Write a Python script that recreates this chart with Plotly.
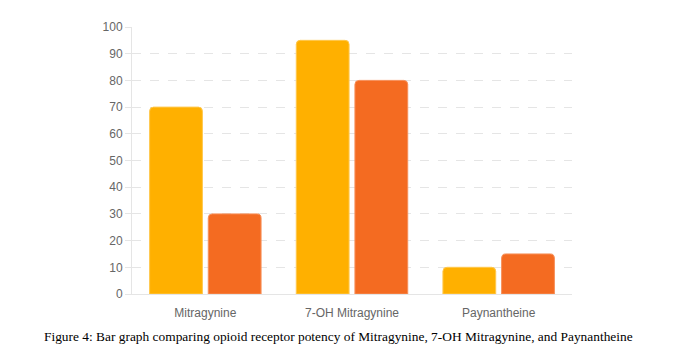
import plotly.graph_objects as go

categories = ["Mitragynine", "7-OH Mitragynine", "Paynantheine"]
series_a = [70, 95, 10]
series_b = [30, 80, 15]
y_ticks = [0, 10, 20, 30, 40, 50, 60, 70, 80, 90, 100]
caption = "Figure 4: Bar graph comparing opioid receptor potency of Mitragynine, 7-OH Mitragynine, and Paynantheine"

fig = go.Figure()
fig.add_trace(go.Bar(x=categories, y=series_a, marker=dict(color="#FFB000", line=dict(color="#FFC84D", width=1)), name="A"))
fig.add_trace(go.Bar(x=categories, y=series_b, marker=dict(color="#F46B21", line=dict(color="#F7905A", width=1)), name="B"))

fig.update_layout(
    width=681, height=362,
    margin=dict(l=124, r=117, t=15, b=76),
    barmode="group", bargap=0.2, bargroupgap=0.1, barcornerradius=4,
    showlegend=False,
    plot_bgcolor="white", paper_bgcolor="white",
    font=dict(family="Liberation Sans, Arial", size=12, color="#666666"),
)
fig.update_xaxes(showgrid=False, showline=True, linecolor="#e5e5e5", linewidth=1,
                 ticks="", tickfont=dict(size=12, color="#666666"), ticklabelstandoff=8)
fig.update_yaxes(range=[0, 100], tickvals=y_ticks, showgrid=True, gridcolor="#e5e5e5",
                 griddash="dash", showline=True, linecolor="#e5e5e5", linewidth=1,
                 ticks="outside", ticklen=6, tickcolor="#e5e5e5", zeroline=False,
                 tickfont=dict(size=12, color="#666666"))
fig.add_annotation(text=caption, xref="paper", yref="paper", x=0.47, y=-43/271,
                   xanchor="center", yanchor="middle", showarrow=False,
                   font=dict(family="Liberation Serif, Times New Roman", size=13.4, color="#000000"))
fig.write_html("out.html")
